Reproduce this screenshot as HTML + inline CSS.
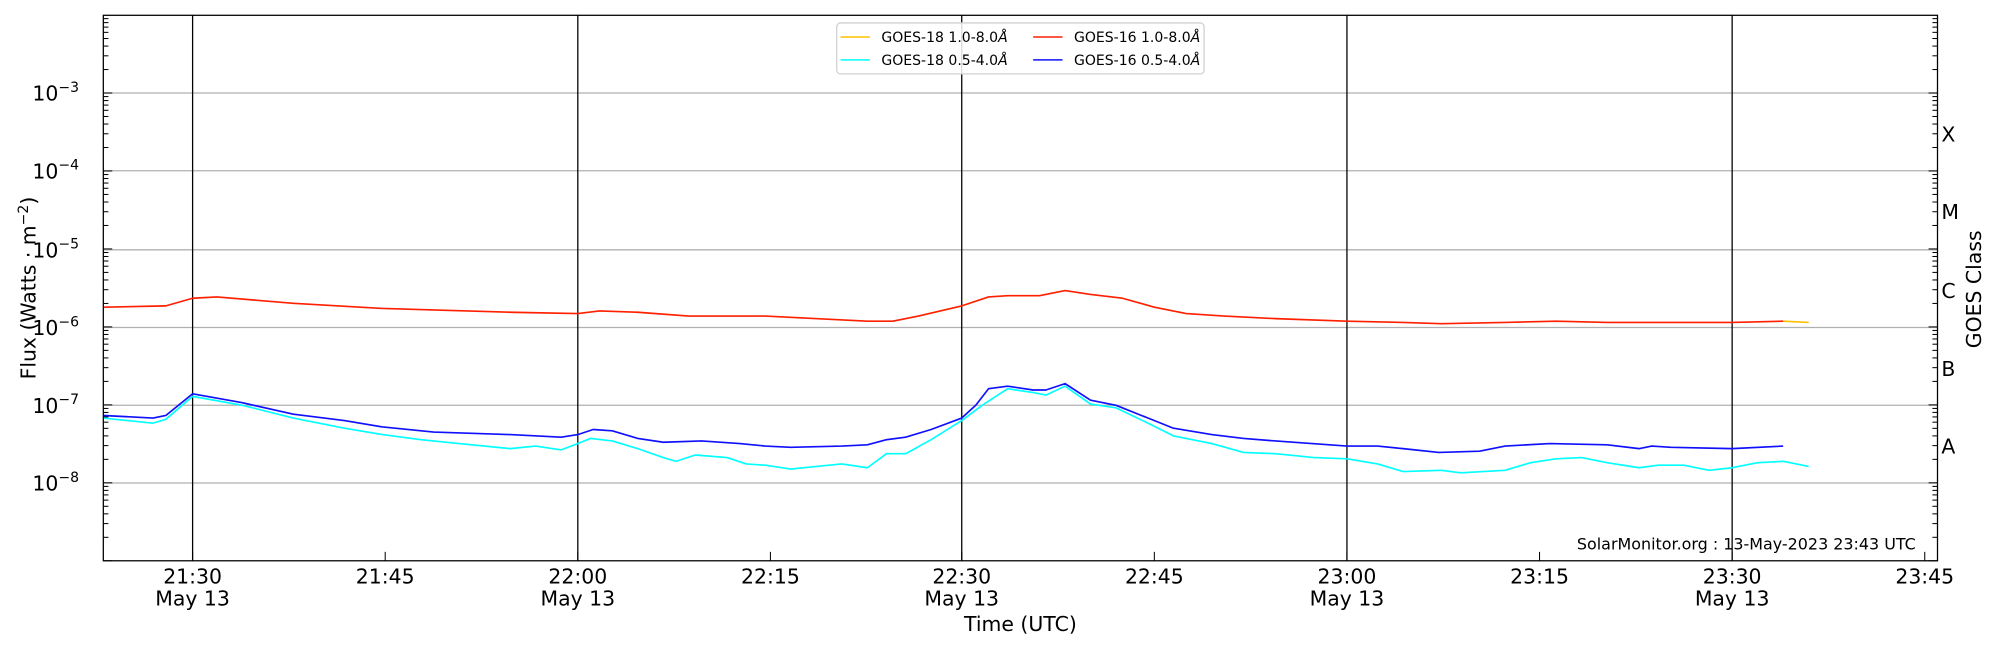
<!DOCTYPE html>
<html><head><meta charset="utf-8"><style>
html,body{margin:0;padding:0;background:#fff;}
svg{display:block;}
text{font-family:"DejaVu Sans","Liberation Sans",sans-serif;fill:#000;}
</style></head><body>
<svg id="s" width="2000" height="650" viewBox="0 0 1568 510" preserveAspectRatio="none" xmlns="http://www.w3.org/2000/svg">
<rect x="0" y="0" width="1568" height="510" fill="#fff"/>
<g id="grid" stroke="#b0b0b0" stroke-width="1">
<line x1="81" x2="1519" y1="73" y2="73"/><line x1="81" x2="1519" y1="134" y2="134"/>
<line x1="81" x2="1519" y1="196" y2="196"/><line x1="81" x2="1519" y1="257" y2="257"/>
<line x1="81" x2="1519" y1="318" y2="318"/><line x1="81" x2="1519" y1="379" y2="379"/>
</g>
<g stroke="#000" stroke-width="1">
<line x1="151" x2="151" y1="12" y2="440"/><line x1="453" x2="453" y1="12" y2="440"/>
<line x1="754" x2="754" y1="12" y2="440"/><line x1="1056" x2="1056" y1="12" y2="440"/>
<line x1="1358" x2="1358" y1="12" y2="440"/>
</g>
<g id="ticks" stroke="#000" stroke-width="0.8"></g>
<g fill="none" stroke-width="1.3" stroke-linejoin="round">
<path stroke="#ffc000" d="M1398,252 L1418,253"/>
<path stroke="#00ffff" d="M81,328 L100,330 L120,332 L130,329 L151,311 L190,318 L230,328 L270,336 L300,341 L330,345 L360,348 L400,352 L420,350 L440,353 L453,348 L463,344 L480,346 L500,352 L520,359 L530,362 L545,357 L570,359 L585,364 L600,365 L620,368 L640,366 L660,364 L680,367 L695,356 L710,356 L730,345 L754,330 L770,318 L790,305 L810,308 L820,310 L835,303 L855,317 L875,320 L900,332 L920,342 L950,348 L975,355 L1000,356 L1030,359 L1056,360 L1080,364 L1100,370 L1130,369 L1145,371 L1180,369 L1200,363 L1220,360 L1240,359 L1260,363 L1285,367 L1300,365 L1320,365 L1340,369 L1358,367 L1378,363 L1398,362 L1418,366"/>
<path stroke="#ff2000" d="M81,241 L130,240 L151,234 L170,233 L230,238 L300,242 L400,245 L453,246 L470,244 L500,245 L540,248 L600,248 L680,252 L700,252 L720,248 L754,240 L775,233 L790,232 L815,232 L835,228 L855,231 L880,234 L905,241 L930,246 L960,248 L1000,250 L1056,252 L1100,253 L1130,254 L1180,253 L1220,252 L1260,253 L1358,253 L1398,252"/>
<path stroke="#1010ff" d="M81,326 L120,328 L130,326 L151,309 L190,316 L230,325 L270,330 L300,335 L340,339 L400,341 L440,343 L453,341 L465,337 L480,338 L500,344 L520,347 L550,346 L580,348 L600,350 L620,351 L660,350 L680,349 L695,345 L710,343 L730,337 L754,328 L765,318 L775,305 L790,303 L810,306 L820,306 L835,301 L855,314 L875,318 L900,328 L920,336 L950,341 L975,344 L1000,346 L1056,350 L1080,350 L1100,352 L1128,355 L1160,354 L1180,350 L1215,348 L1260,349 L1285,352 L1295,350 L1310,351 L1358,352 L1398,350"/>
</g>
<rect x="81" y="12" width="1438" height="428" fill="none" stroke="#000" stroke-width="1"/>
<g font-size="16" text-anchor="end">
<text x="62" y="79">10<tspan font-size="11" dy="-7">−3</tspan></text>
<text x="62" y="140">10<tspan font-size="11" dy="-7">−4</tspan></text>
<text x="62" y="202">10<tspan font-size="11" dy="-7">−5</tspan></text>
<text x="62" y="263">10<tspan font-size="11" dy="-7">−6</tspan></text>
<text x="62" y="324">10<tspan font-size="11" dy="-7">−7</tspan></text>
<text x="62" y="385">10<tspan font-size="11" dy="-7">−8</tspan></text>
</g>
<g font-size="16">
<text x="1522" y="111">X</text><text x="1522" y="172">M</text><text x="1522" y="234">C</text>
<text x="1522" y="295">B</text><text x="1522" y="356">A</text>
</g>
<g font-size="16" text-anchor="middle">
<text x="151" y="458">21:30</text><text x="151" y="475">May 13</text>
<text x="302" y="458">21:45</text>
<text x="453" y="458">22:00</text><text x="453" y="475">May 13</text>
<text x="604" y="458">22:15</text>
<text x="754" y="458">22:30</text><text x="754" y="475">May 13</text>
<text x="905" y="458">22:45</text>
<text x="1056" y="458">23:00</text><text x="1056" y="475">May 13</text>
<text x="1207" y="458">23:15</text>
<text x="1358" y="458">23:30</text><text x="1358" y="475">May 13</text>
<text x="1509" y="458">23:45</text>
<text x="800" y="495">Time (UTC)</text>
<text transform="translate(28,226) rotate(-90)">Flux (Watts · m<tspan font-size="11" dy="-6">−2</tspan><tspan dy="6">)</tspan></text>
<text transform="translate(1553,227) rotate(-90)">GOES Class</text>
</g>
<text x="1502" y="431" font-size="12.5" text-anchor="end">SolarMonitor.org : 13-May-2023 23:43 UTC</text>
<rect x="656" y="18" width="288" height="40" rx="3" fill="#fff" fill-opacity="0.85" stroke="#d0d0d0" stroke-width="1"/>
<g stroke-width="1.2">
<line x1="659" x2="682" y1="29" y2="29" stroke="#ffc000"/>
<line x1="659" x2="682" y1="47" y2="47" stroke="#00ffff"/>
<line x1="810" x2="833" y1="29" y2="29" stroke="#ff2000"/>
<line x1="810" x2="833" y1="47" y2="47" stroke="#1010ff"/>
</g>
<g font-size="11">
<text x="691" y="33">GOES-18 1.0-8.0<tspan font-style="italic">Å</tspan></text>
<text x="691" y="51">GOES-18 0.5-4.0<tspan font-style="italic">Å</tspan></text>
<text x="842" y="33">GOES-16 1.0-8.0<tspan font-style="italic">Å</tspan></text>
<text x="842" y="51">GOES-16 0.5-4.0<tspan font-style="italic">Å</tspan></text>
</g>
</svg>
<script>
var g=document.getElementById('ticks'),s='';
var d=61.17;
for(var k=-9;k<-2;k++){var y0=440-(k+9)*d;
 for(var m=1;m<10;m++){var y=y0-Math.log10(m)*d;if(y<12.5)continue;
  var L=(m==1)?7:4;
  s+='<line x1="81" x2="'+(81+L)+'" y1="'+y+'" y2="'+y+'"/><line x1="'+(1519-L)+'" x2="1519" y1="'+y+'" y2="'+y+'"/>';}}
var xs=[151,302,453,604,754,905,1056,1207,1358,1509];
xs.forEach(function(x){s+='<line x1="'+x+'" x2="'+x+'" y1="440" y2="433"/>';});
g.innerHTML=s;
</script>
</body></html>
